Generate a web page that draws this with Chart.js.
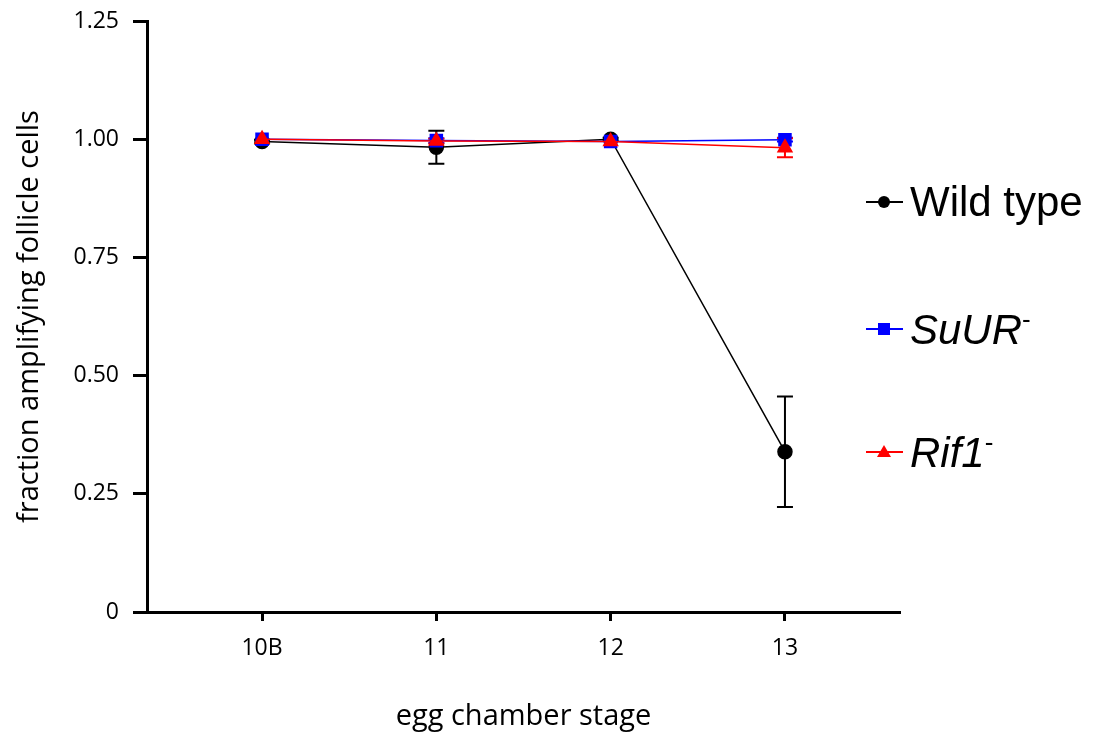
<!DOCTYPE html>
<html lang="en">
<head>
<meta charset="utf-8" />
<title>Fraction amplifying follicle cells</title>
<script src="https://cdn.jsdelivr.net/npm/chart.js@4.4.1/dist/chart.umd.min.js"></script>
<style>
    html, body { margin: 0; padding: 0; background: #fff; }
    #wrap { position: relative; width: 1096px; height: 734px; }
    #legend {
        position: absolute; left: 866px; top: 0;
        font-family: "Liberation Sans", Arial, sans-serif;
        font-size: 42px; color: #000;
    }
    .item { position: absolute; left: 0; white-space: nowrap; display: flex; align-items: center; height: 50px; margin-top: -25px; }
    .sym { position: relative; width: 37px; height: 20px; margin-right: 7px; }
    .sym .ln { position: absolute; left: 0; right: 0; top: 9px; height: 2px; }
    .sym .mk { position: absolute; }
    .item sup { font-size: 26px; font-style: normal; vertical-align: 16px; }
</style>
</head>
<body>
<div id="wrap">
    <canvas id="chart" width="1096" height="734"></canvas>
    <div id="legend"></div>
</div>
<script>
    const stages = ["10B", "11", "12", "13"];
    const stageX = [0, 1, 2, 3];

    const seriesNames = ["Wild type", "SuUR", "Rif1"];
    const wildType = [0.995, 0.983, 1.0, 0.339];
    const wildTypeErr = [0.004, 0.035, 0.003, 0.117];
    const suur = [1.0, 0.997, 0.995, 0.999];
    const suurErr = [0, 0.005, 0, 0.004];
    const rif1 = [1.0, 0.996, 0.995, 0.982];
    const rif1Err = [0, 0.005, 0, 0.02];

    const yTicks = [0, 0.25, 0.5, 0.75, 1.0, 1.25];
    const yTickLabels = ["0", "0.25", "0.50", "0.75", "1.00", "1.25"];

    const tickFont = { family: "'Open Sans', 'Noto Sans', sans-serif", size: 23 };
    const titleFont = { family: "'Open Sans', 'Noto Sans', sans-serif", size: 29 };

    function points(vals) {
        return stageX.map((x, i) => ({ x: x, y: vals[i] }));
    }

    // vertical error bars with caps, drawn under the markers
    const errorBars = {
        id: "errorBars",
        beforeDatasetsDraw(chart) {
            const ctx = chart.ctx;
            const xs = chart.scales.x, ys = chart.scales.y;
            chart.data.datasets.forEach((ds) => {
                if (!ds.errors) return;
                ctx.save();
                ctx.strokeStyle = ds.borderColor;
                ctx.lineWidth = 2;
                ds.data.forEach((p, i) => {
                    const e = ds.errors[i];
                    if (!e) return;
                    const px = xs.getPixelForValue(p.x);
                    const top = ys.getPixelForValue(p.y + e);
                    const bot = ys.getPixelForValue(p.y - e);
                    ctx.beginPath();
                    ctx.moveTo(px, top); ctx.lineTo(px, bot);
                    ctx.moveTo(px - 8, top); ctx.lineTo(px + 8, top);
                    ctx.moveTo(px - 8, bot); ctx.lineTo(px + 8, bot);
                    ctx.stroke();
                });
                ctx.restore();
            });
        }
    };

    new Chart(document.getElementById("chart"), {
        type: "line",
        data: {
            datasets: [
                {
                    label: seriesNames[0], data: points(wildType), errors: wildTypeErr,
                    borderColor: "#000", backgroundColor: "#000", borderWidth: 1.5,
                    pointStyle: "circle", pointRadius: 7, order: 3
                },
                {
                    label: seriesNames[1], data: points(suur), errors: suurErr,
                    borderColor: "#0000ff", backgroundColor: "#0000ff", borderWidth: 1.5,
                    pointStyle: "rect", pointRadius: 8.5, order: 2
                },
                {
                    label: seriesNames[2], data: points(rif1), errors: rif1Err,
                    borderColor: "#ff0000", backgroundColor: "#ff0000", borderWidth: 1.5,
                    pointStyle: "triangle", pointRadius: 8, order: 1
                }
            ]
        },
        options: {
            responsive: false,
            animation: false,
            layout: { autoPadding: false, padding: { left: 0, right: 196, top: 21, bottom: 0 } },
            plugins: { legend: { display: false }, tooltip: { enabled: false } },
            elements: { line: { tension: 0 }, point: { borderWidth: 0 } },
            scales: {
                x: {
                    type: "linear", min: -0.66, max: 3.66,
                    afterBuildTicks: (s) => { s.ticks = stageX.map((v) => ({ value: v })); },
                    afterFit: (s) => { s.height = 122; s.paddingLeft = 0; s.paddingRight = 0; },
                    ticks: {
                        color: "#000", font: tickFont, padding: 14,
                        callback: (v) => stages[stageX.indexOf(v)]
                    },
                    grid: { drawOnChartArea: false, drawTicks: true, tickLength: 9, tickWidth: 3, color: "#000" },
                    border: { color: "#000", width: 3 },
                    title: { display: true, text: "egg chamber stage", color: "#000", font: titleFont, padding: { top: 0, bottom: 0 } }
                },
                y: {
                    min: 0, max: 1.25,
                    afterBuildTicks: (s) => { s.ticks = yTicks.map((v) => ({ value: v })); },
                    afterFit: (s) => { s.width = 147; s.paddingTop = 0; s.paddingBottom = 0; },
                    ticks: {
                        color: "#000", font: tickFont, padding: 14,
                        callback: (v) => yTickLabels[yTicks.indexOf(v)]
                    },
                    grid: { drawOnChartArea: false, drawTicks: true, tickLength: 14, tickWidth: 3, color: "#000" },
                    border: { color: "#000", width: 3 },
                    title: { display: true, text: "fraction amplifying follicle cells", color: "#000", font: titleFont, padding: { top: 12, bottom: 12 } }
                }
            }
        },
        plugins: [errorBars]
    });

    // legend, laid out like the original figure
    const legendItems = [
        { html: "Wild type", color: "#000", mark: "circle", top: 202 },
        { html: "<i>SuUR</i><sup>-</sup>", color: "#0000ff", mark: "square", top: 329 },
        { html: "<i>Rif1</i><sup>-</sup>", color: "#ff0000", mark: "triangle", top: 452 }
    ];
    const legend = document.getElementById("legend");
    legendItems.forEach((it) => {
        let mk;
        if (it.mark === "circle") {
            mk = `<span class="mk" style="left:12px;top:4px;width:12px;height:12px;border-radius:50%;background:${it.color}"></span>`;
        } else if (it.mark === "square") {
            mk = `<span class="mk" style="left:12px;top:4px;width:12px;height:12px;background:${it.color}"></span>`;
        } else {
            mk = `<span class="mk" style="left:11px;top:3px;width:0;height:0;border-left:7px solid transparent;border-right:7px solid transparent;border-bottom:12px solid ${it.color}"></span>`;
        }
        const div = document.createElement("div");
        div.className = "item";
        div.style.top = it.top + "px";
        div.innerHTML = `<span class="sym"><span class="ln" style="background:${it.color}"></span>${mk}</span><span>${it.html}</span>`;
        legend.appendChild(div);
    });
</script>
</body>
</html>
